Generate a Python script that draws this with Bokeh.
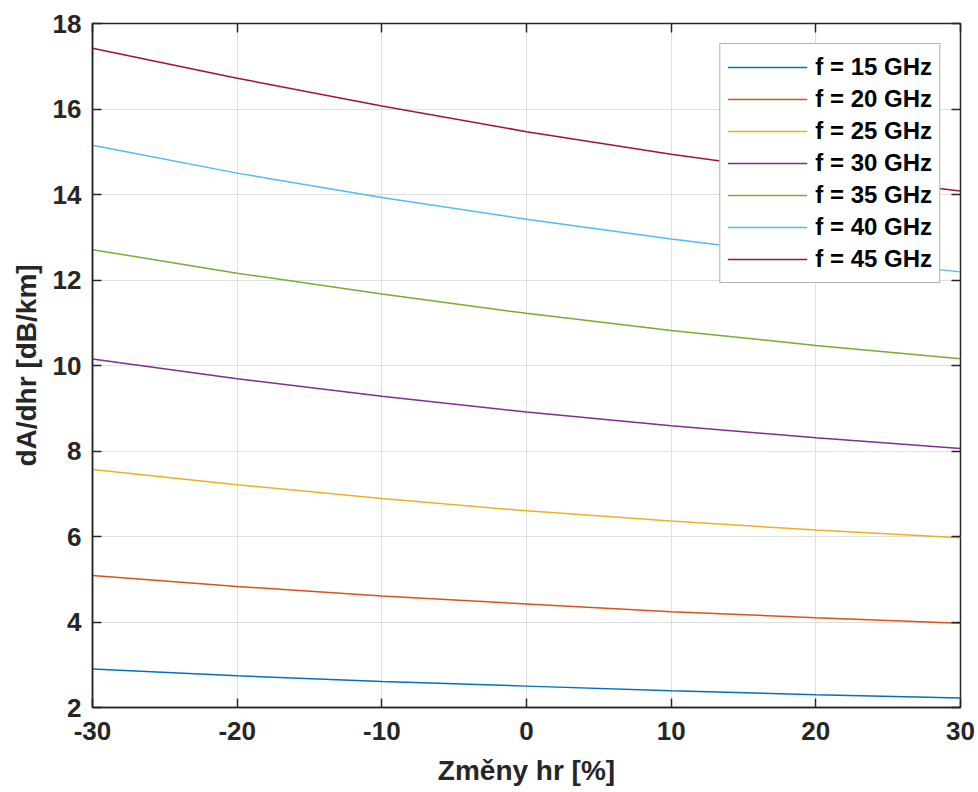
from bokeh.plotting import figure
from bokeh.models import Range1d, FixedTicker, LinearAxis, Legend, LegendItem
from bokeh.embed import file_html
from bokeh.resources import INLINE

x_vals = [-30, -20, -10, 0, 10, 20, 30]

f15 = [2.90, 2.74, 2.61, 2.50, 2.39, 2.30, 2.22]
f20 = [5.09, 4.83, 4.61, 4.42, 4.24, 4.10, 3.97]
f25 = [7.57, 7.21, 6.89, 6.60, 6.36, 6.15, 5.97]
f30 = [10.15, 9.69, 9.28, 8.91, 8.59, 8.31, 8.06]
f35 = [12.71, 12.16, 11.67, 11.22, 10.82, 10.47, 10.16]
f40 = [15.15, 14.50, 13.93, 13.42, 12.96, 12.55, 12.19]
f45 = [17.42, 16.72, 16.07, 15.47, 14.94, 14.48, 14.08]

series = [f15, f20, f25, f30, f35, f40, f45]
labels = ["f = 15 GHz", "f = 20 GHz", "f = 25 GHz", "f = 30 GHz",
          "f = 35 GHz", "f = 40 GHz", "f = 45 GHz"]
colors = ["#0072BD", "#D95319", "#EDB120", "#7E2F8E", "#77AC30", "#4DBEEE", "#A2142F"]

x_ticks = [-30, -20, -10, 0, 10, 20, 30]
x_tick_labels = ["-30", "-20", "-10", "0", "10", "20", "30"]
y_ticks = [2, 4, 6, 8, 10, 12, 14, 16, 18]

FONT = "Liberation Sans"
DARK = "#262626"

p = figure(width=978, height=792, output_backend="svg", toolbar_location=None,
           x_range=Range1d(-30, 30), y_range=Range1d(2, 18),
           min_border_left=92, min_border_right=18, min_border_top=23, min_border_bottom=85)

p.background_fill_color = "white"
p.border_fill_color = "white"
p.outline_line_color = DARK
p.outline_line_width = 1.5
p.outline_line_alpha = 1.0

p.xaxis.ticker = FixedTicker(ticks=x_ticks)
p.yaxis.ticker = FixedTicker(ticks=y_ticks)
p.xaxis.major_label_overrides = {t: s for t, s in zip(x_ticks, x_tick_labels)}

for ax in [p.xaxis[0], p.yaxis[0]]:
    ax.axis_line_color = DARK
    ax.axis_line_width = 1.5
    ax.major_tick_line_color = DARK
    ax.major_tick_line_width = 1.5
    ax.major_tick_in = 9
    ax.major_tick_out = 0
    ax.minor_tick_line_color = None
    ax.major_label_text_font = FONT
    ax.major_label_text_font_style = "bold"
    ax.major_label_text_font_size = "26px"
    ax.major_label_text_color = DARK
    ax.axis_label_text_font = FONT
    ax.axis_label_text_font_style = "bold"
    ax.axis_label_text_font_size = "28px"
    ax.axis_label_text_color = DARK

p.xaxis.axis_label = "Změny hr [%]"
p.yaxis.axis_label = "dA/dhr [dB/km]"
p.xaxis.major_label_standoff = 14
p.yaxis.major_label_standoff = 11
p.xaxis.axis_label_standoff = 12
p.yaxis.axis_label_standoff = 8

# top and right axes: ticks only
top = LinearAxis(ticker=FixedTicker(ticks=x_ticks))
right = LinearAxis(ticker=FixedTicker(ticks=y_ticks))
top.major_label_overrides = {t: "" for t in x_ticks}
right.major_label_overrides = {t: "" for t in y_ticks}
for ax in [top, right]:
    ax.axis_line_color = None
    ax.major_tick_line_color = DARK
    ax.major_tick_line_width = 1.5
    ax.major_tick_in = 9
    ax.major_tick_out = 0
    ax.minor_tick_line_color = None
    ax.major_label_standoff = 0
p.add_layout(top, "above")
p.add_layout(right, "right")

p.xgrid.ticker = FixedTicker(ticks=x_ticks)
p.ygrid.ticker = FixedTicker(ticks=y_ticks)
p.grid.grid_line_color = "#dfdfdf"
p.grid.grid_line_width = 1

items = []
for ys, lab, col in zip(series, labels, colors):
    r = p.line(x_vals, ys, line_color=col, line_width=1.5)
    items.append(LegendItem(label=lab, renderers=[r]))

legend = Legend(items=items, location="top_right")
legend.margin = 20
legend.padding = 7
legend.spacing = 0
legend.label_height = 32
legend.glyph_height = 32
legend.glyph_width = 80
legend.label_standoff = 8
legend.label_text_font = FONT
legend.label_text_font_style = "bold"
legend.label_text_font_size = "24px"
legend.label_text_color = "black"
legend.border_line_color = "#666666"
legend.border_line_width = 1.5
legend.background_fill_color = "white"
legend.background_fill_alpha = 1.0
p.add_layout(legend, "center")

open("out.html", "w").write(file_html(p, INLINE))
